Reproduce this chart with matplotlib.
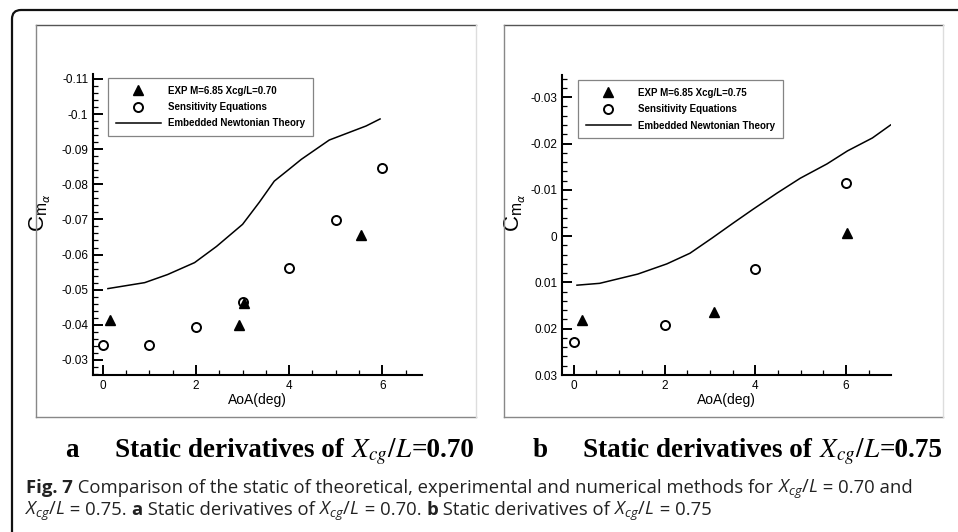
import matplotlib
matplotlib.use('Agg')
import matplotlib.pyplot as plt
from matplotlib.ticker import MultipleLocator, FuncFormatter
from matplotlib.patches import FancyBboxPatch
from matplotlib.lines import Line2D

# ---------------- data ----------------
legend_a = ["EXP M=6.85 Xcg/L=0.70", "Sensitivity Equations", "Embedded Newtonian Theory"]
legend_b = ["EXP M=6.85 Xcg/L=0.75", "Sensitivity Equations", "Embedded Newtonian Theory"]

aoa_exp_a = [0.15, 2.93, 3.03, 5.55]
cma_exp_a = [-0.0414, -0.0398, -0.0462, -0.0657]
aoa_sens_a = [0, 1, 2, 3, 4, 5, 6]
cma_sens_a = [-0.0343, -0.0343, -0.0394, -0.0465, -0.0563, -0.0697, -0.0846]
aoa_newt_a = [0.11, 0.90, 1.39, 1.97, 2.44, 3.00, 3.36, 3.68, 4.00, 4.26, 4.86, 5.65, 5.95]
cma_newt_a = [-0.0503, -0.0520, -0.0543, -0.0577, -0.0623, -0.0686, -0.0749,
              -0.0809, -0.0843, -0.0871, -0.0926, -0.0966, -0.0986]

aoa_exp_b = [0.19, 3.10, 6.03]
cma_exp_b = [0.0182, 0.0164, -0.0007]
aoa_sens_b = [0, 2, 4, 6]
cma_sens_b = [0.0228, 0.0193, 0.0070, -0.0115]
aoa_newt_b = [0.07, 0.57, 1.41, 2.05, 2.56, 3.05, 3.51, 3.95, 4.48, 4.99, 5.58, 6.03, 6.58, 6.98]
cma_newt_b = [0.0106, 0.0102, 0.0082, 0.0060, 0.0037, 0.0004, -0.0028, -0.0058,
              -0.0093, -0.0125, -0.0156, -0.0184, -0.0212, -0.0240]

xlim_a = (-0.21, 6.85)
ylim_a = (-0.0257, -0.1114)
xlim_b = (-0.26, 6.99)
ylim_b = (0.0300, -0.0348)

W, H = 958, 532
plt.rcParams['font.family'] = ['Liberation Sans', 'DejaVu Sans']
plt.rcParams['mathtext.fontset'] = 'custom'
plt.rcParams['mathtext.rm'] = 'Open Sans'
plt.rcParams['mathtext.it'] = 'Open Sans:italic'
plt.rcParams['mathtext.bf'] = 'Open Sans:bold'

fig = plt.figure(figsize=(W / 100, H / 100), dpi=100)
fig.patch.set_facecolor('white')


def fx(px):
    return px / W


def fy(py):
    return 1 - py / H


# outer rounded border
border = FancyBboxPatch((12 / 100, -0.4), 12, (H - 10) / 100 + 0.4,
                        boxstyle="round,pad=0,rounding_size=0.09",
                        transform=fig.dpi_scale_trans, facecolor='none',
                        edgecolor='#111111', linewidth=1.6, zorder=0)
fig.patches.append(border)


def frame(x0, x1, y0, y1):
    fig.add_artist(Line2D([fx(x0), fx(x1)], [fy(y0), fy(y0)], color='#555555', lw=1.0))
    fig.add_artist(Line2D([fx(x0), fx(x0)], [fy(y0), fy(y1)], color='#888888', lw=1.0))
    fig.add_artist(Line2D([fx(x0), fx(x1)], [fy(y1), fy(y1)], color='#888888', lw=1.0))
    fig.add_artist(Line2D([fx(x1), fx(x1)], [fy(y0), fy(y1)], color='#dddddd', lw=1.0))


frame(36, 476, 25, 417)
frame(504, 943, 25, 417)

fmt = FuncFormatter(lambda v, p: f"{round(v, 4):g}")


def make_axes(rect, xlim, ylim, ex, ey, sx, sy, nx, ny, labels, ylab_x, leg_x, leg_top):
    ax = fig.add_axes(rect)
    ax.plot(nx, ny, color='black', lw=1.1, label=labels[2], zorder=2)
    ax.plot(sx, sy, linestyle='none', marker='o', markersize=6.5, markerfacecolor='white',
            markeredgecolor='black', markeredgewidth=1.4, label=labels[1], zorder=3)
    ax.plot(ex, ey, linestyle='none', marker='^', markersize=6.5, color='black',
            label=labels[0], zorder=4)
    ax.set_xlim(*xlim)
    ax.set_ylim(*ylim)
    for s in ['top', 'right']:
        ax.spines[s].set_visible(False)
    for s in ['left', 'bottom']:
        ax.spines[s].set_linewidth(1.5)
    ax.xaxis.set_major_locator(MultipleLocator(2))
    ax.xaxis.set_minor_locator(MultipleLocator(0.5))
    ax.yaxis.set_major_locator(MultipleLocator(0.01))
    ax.yaxis.set_minor_locator(MultipleLocator(0.002))
    ax.yaxis.set_major_formatter(fmt)
    ax.tick_params(which='major', direction='in', length=7, width=1.4, labelsize=8.5,
                   pad=3.5, top=False, right=False)
    ax.tick_params(which='minor', direction='in', length=3.5, width=0.9, top=False, right=False)
    ax.set_xlabel('AoA(deg)', fontsize=10, labelpad=1)
    ax.set_ylabel(r'C$_{\mathregular{m}_\alpha}$', fontsize=16, math_fontfamily='dejavusans')
    ax.yaxis.set_label_coords(ylab_x, 0.54)
    ax.patch.set_alpha(0)
    h, l = ax.get_legend_handles_labels()
    order = [2, 1, 0]
    leg = ax.legend([h[i] for i in order], [l[i] for i in order],
                    loc='upper left', bbox_to_anchor=(leg_x, leg_top),
                    prop={'weight': 'bold', 'size': 7}, frameon=True, fancybox=False,
                    edgecolor='#666666', handlelength=4.6, handletextpad=0.75,
                    borderpad=0.8, labelspacing=0.65, borderaxespad=0)
    leg.get_frame().set_linewidth(0.9)
    return ax


make_axes([fx(93), 1 - 375 / H, 329 / W, 301 / H], xlim_a, ylim_a,
          aoa_exp_a, cma_exp_a, aoa_sens_a, cma_sens_a, aoa_newt_a, cma_newt_a,
          legend_a, -0.122, 0.046, 0.987)
make_axes([fx(562), 1 - 375 / H, 329 / W, 300 / H], xlim_b, ylim_b,
          aoa_exp_b, cma_exp_b, aoa_sens_b, cma_sens_b, aoa_newt_b, cma_newt_b,
          legend_b, -0.104, 0.049, 0.983)

fig.canvas.draw()
r = fig.canvas.get_renderer()


def run(pieces, x0, yb):
    x = x0
    for s, kw in pieces:
        t = fig.text(fx(x), fy(yb), s, va='baseline', ha='left', **kw)
        bb = t.get_window_extent(renderer=r)
        x = bb.x1
    return x


SS = 19.5
serif_b = dict(family=['Liberation Serif'], weight='bold', size=SS)
serif_m = dict(family=['Liberation Serif'], weight='bold', size=SS, math_fontfamily='stix')

fig.text(fx(65), fy(457), 'a', va='baseline', ha='left', **serif_b)
run([('Static derivatives of ', serif_b), (r'$X_{cg}/L$', serif_m), ('=0.70', serif_b)], 115, 457)
fig.text(fx(533), fy(457), 'b', va='baseline', ha='left', **serif_b)
run([('Static derivatives of ', serif_b), (r'$X_{cg}/L$', serif_m), ('=0.75', serif_b)], 583, 457)

CS = 13.3
cap = dict(family=['Open Sans', 'DejaVu Sans'], size=CS, color='#222222')
capb = dict(family=['Open Sans', 'DejaVu Sans'], size=CS, weight='bold', color='#222222')
capm = dict(family=['Open Sans', 'DejaVu Sans'], size=CS, color='#222222', math_fontfamily='custom')

run([('Fig. 7', capb),
     (' Comparison of the static of theoretical, experimental and numerical methods for ', cap),
     (r'$X_{cg}/L$', capm), (' = 0.70 and', cap)], 26, 493)
run([(r'$X_{cg}/L$', capm), (' = 0.75. ', cap), ('a', capb),
     (' Static derivatives of ', cap), (r'$X_{cg}/L$', capm), (' = 0.70. ', cap), ('b', capb),
     (' Static derivatives of ', cap), (r'$X_{cg}/L$', capm), (' = 0.75', cap)], 25, 515)

fig.savefig('out.png', dpi=100)
